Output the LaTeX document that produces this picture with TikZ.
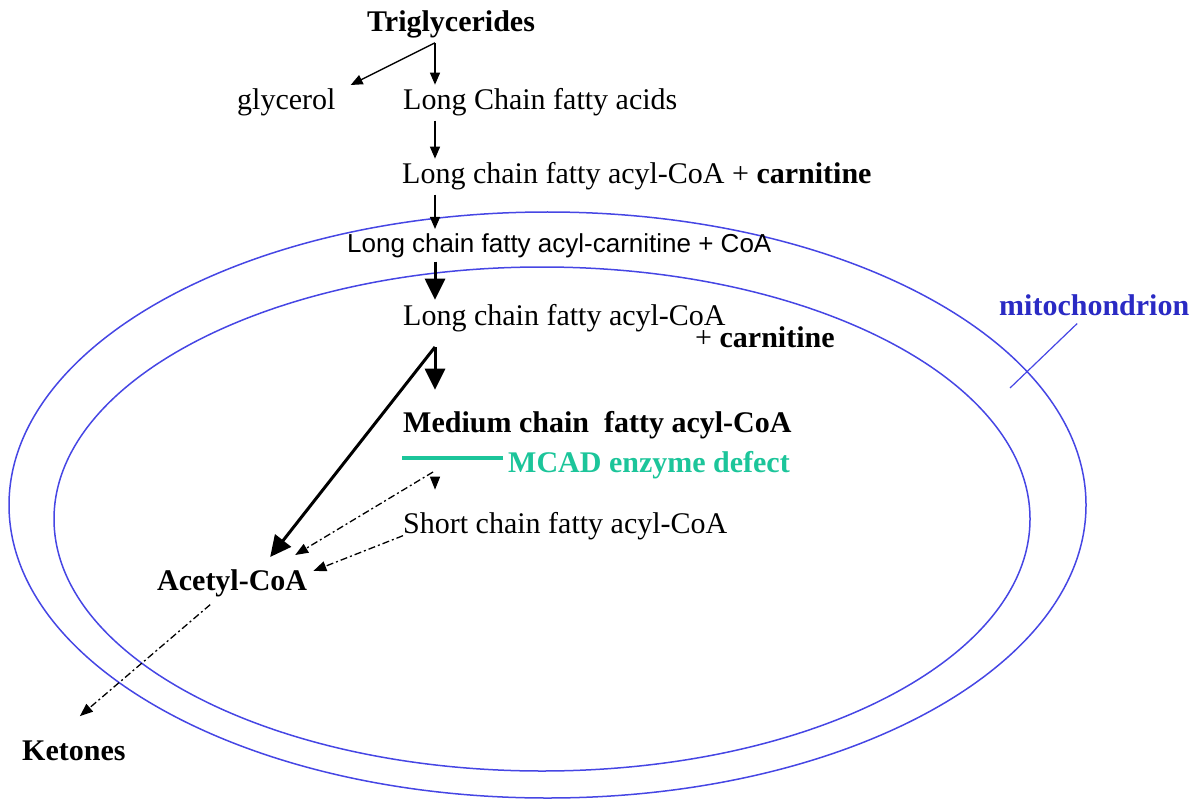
\documentclass[tikz,border=0pt]{standalone}
\usepackage{fontspec}
\setmainfont{Liberation Serif}
\setsansfont{Liberation Sans}
\usetikzlibrary{arrows.meta}
\definecolor{mitoBlue}{HTML}{4646E4}
\definecolor{mitoText}{HTML}{2A2AC4}
\definecolor{mcadTeal}{HTML}{1CC59A}

\begin{document}
\begin{tikzpicture}[
        x=1pt, y=-1pt,
        metab/.style={
            anchor=base west,
            inner xsep=0pt,
            inner ysep=4pt,
            font=\fontsize{30}{34}\selectfont
        },
        metabbold/.style={
            metab,
            font=\fontsize{30}{34}\selectfont\bfseries
        },
        metabsans/.style={
            metab,
            font=\fontsize{26}{30}\selectfont\sffamily
        },
        thinarrow/.style={
            -{Triangle[length=12pt,width=10pt]},
            line width=1.3pt
        },
        thickarrow/.style={
            -{Triangle[length=21pt,width=20pt]},
            line width=3pt
        },
        dasharrow/.style={
            -{Triangle[length=13pt,width=10pt]},
            line width=1.3pt,
            dash pattern=on 7pt off 3pt on 2pt off 3pt
        },
        membrane/.style={
            draw=mitoBlue,
            line width=1.5pt
        },
        mcadbar/.style={
            draw=mcadTeal,
            line width=4pt
        }
    ]
    \useasboundingbox (0,0) rectangle (1198,802);

    \draw[membrane] (547.5,505) ellipse [x radius=538.5, y radius=293];
    \draw[membrane] (542,519) ellipse [x radius=488, y radius=252];

    \node[metabbold] (tg) at (367,32) {Triglycerides};
    \node[metab] (glyc) at (237,110) {glycerol};
    \node[metab] (lcfa) at (403,110) {Long Chain fatty acids};
    \node[metab] (lcacoa) at (402,184) {Long chain fatty acyl-CoA + \textbf{carnitine}};
    \node[metabsans] (lcacarn) at (347,252) {Long chain fatty acyl-carnitine + CoA};
    \node[metab] (lcacoain) at (403,325) {Long chain fatty acyl-CoA};
    \node[metab] (carnin) at (695,347) {+ \textbf{carnitine}};
    \node[metabbold] (mcacoa) at (403,432) {Medium chain\ \ fatty acyl-CoA};
    \node[metabbold, text=mcadTeal] (mcad) at (508,472) {MCAD enzyme defect};
    \node[metab] (scacoa) at (403,533) {Short chain fatty acyl-CoA};
    \node[metabbold] (acoa) at (157,590) {Acetyl-CoA};
    \node[metabbold] (ket) at (22,760) {Ketones};
    \node[metabbold, text=mitoText] (mito) at (999,315) {mitochondrion};

    \coordinate (axis) at (435,0);
    \coordinate (split) at (435,347);
    \coordinate (blk) at (433,472);
    \coordinate (ims) at (1010,388);

    \draw[thinarrow] (tg.south -| axis) -- (lcfa.north -| axis);
    \draw[thinarrow] (tg.south -| axis) -- ([xshift=15pt]glyc.north east);
    \draw[thinarrow] (lcfa.south -| axis) -- (lcacoa.north -| axis);
    \draw[thinarrow] (lcacoa.south -| axis) -- (lcacarn.north -| axis);
    \draw[thickarrow] (lcacarn.south -| axis) -- (lcacoain.north -| axis);
    \draw[thickarrow, shorten >=17pt] (split) -- (mcacoa.north -| axis);
    \draw[thickarrow] (split) -- ([xshift=38pt,yshift=8pt]acoa.north);

    \draw[mcadbar] ([xshift=-5pt,yshift=7pt]mcad.west) -- ++(-101,0);

    \draw[dasharrow] (blk) -- ([xshift=63pt,yshift=10pt]acoa.north);
    \draw[dasharrow, shorten <=5pt, shorten >=18pt] (blk -| axis) -- (scacoa.north -| axis);
    \draw[dasharrow] ([yshift=-10pt]scacoa.west) -- ([xshift=6pt,yshift=-6pt]acoa.north east);
    \draw[dasharrow] ([xshift=-22pt,yshift=-4pt]acoa.south) -- ([xshift=6pt,yshift=20pt]ket.north);

    \draw[membrane, line width=1.2pt] (ims) -- ([xshift=-17pt,yshift=-4pt]mito.south);
\end{tikzpicture}
\end{document}
